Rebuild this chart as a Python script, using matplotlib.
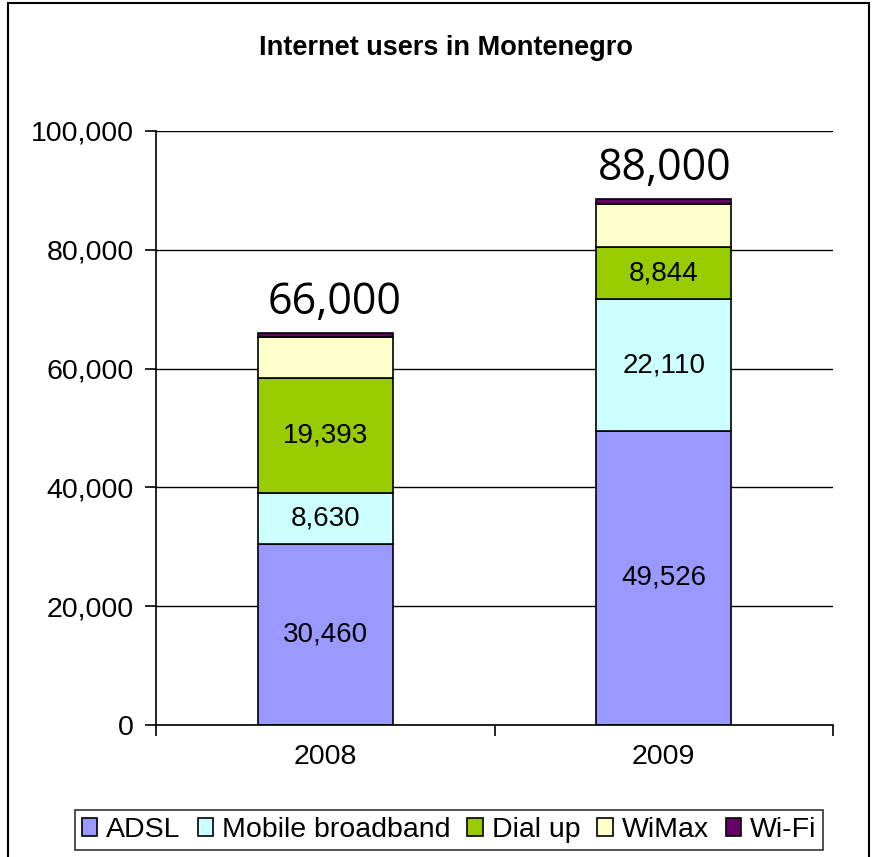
import numpy as np
import matplotlib.pyplot as plt
from matplotlib.patches import Rectangle
from matplotlib.ticker import FuncFormatter

plt.rcParams['font.family'] = ['Liberation Sans', 'DejaVu Sans']

years = ['2008', '2009']
series = ['ADSL', 'Mobile broadband', 'Dial up', 'WiMax', 'Wi-Fi']
adsl = [30460, 49526]
mobile = [8630, 22110]
dialup = [19393, 8844]
wimax = [6917, 7200]
wifi = [600, 900]
totals = ['66,000', '88,000']
colors = ['#9999FF', '#CCFFFF', '#99CC00', '#FFFFCC', '#660066']
show_label = [True, True, True, False, False]

fig = plt.figure(figsize=(8.75, 8.57), dpi=100)
ax = fig.add_axes([156 / 875, 1 - 725 / 857, (833 - 156) / 875, (725 - 131) / 857])

x = np.arange(len(years))
bottom = np.zeros(len(years))
for name, vals, col, lab in zip(series, [adsl, mobile, dialup, wimax, wifi], colors, show_label):
    vals = np.array(vals, dtype=float)
    ax.bar(x, vals, 0.4, bottom=bottom, color=col, edgecolor='black', linewidth=1.2,
           label=name, zorder=3)
    if lab:
        for xi, b, v in zip(x, bottom, vals):
            ax.text(xi, b + v / 2, f'{int(v):,}', ha='center', va='center',
                    fontsize=20, zorder=4)
    bottom += vals

# total labels sit a little off-centre in the original
for xi, top, t, dx in zip(x, bottom, totals, [6.5, 0.5]):
    ax.annotate(t, (xi, top), xytext=(dx, 5.5), textcoords='offset points',
                ha='center', va='bottom', fontsize=31, family=['Open Sans', 'DejaVu Sans'])

ax.set_xlim(-0.5, 1.5)
ax.set_ylim(0, 100000)
ax.set_yticks(np.arange(0, 100001, 20000))
ax.yaxis.set_major_formatter(FuncFormatter(lambda v, p: f'{int(v):,}'))
ax.grid(axis='y', color='black', linewidth=1.0, zorder=0)
ax.set_xticks(x)
ax.set_xticklabels(years)
ax.set_xticks([-0.5, 0.5, 1.5], minor=True)
ax.tick_params(axis='x', which='major', length=0, pad=14, labelsize=20.5)
ax.tick_params(axis='x', which='minor', length=8, width=1.2, direction='out')
ax.tick_params(axis='y', length=8, width=1.2, direction='out', pad=8, labelsize=20.5)
for s in ['top', 'right']:
    ax.spines[s].set_visible(False)
for s in ['left', 'bottom']:
    ax.spines[s].set_linewidth(1.2)
    ax.spines[s].set_zorder(5)

fig.text(446 / 875, 1 - 48 / 857, 'Internet users in Montenegro', ha='center', va='center',
         fontsize=19.5, fontweight='bold')

leg = fig.legend(loc='center', bbox_to_anchor=(449 / 875, 1 - 830 / 857), ncol=5,
                 fontsize=20.5, frameon=True, fancybox=False, edgecolor='black',
                 handlelength=0.55, handleheight=0.55, handletextpad=0.3,
                 columnspacing=0.6, borderpad=0.25, borderaxespad=0)
leg.get_frame().set_linewidth(1.2)

fig.patches.append(Rectangle((8 / 875, -0.01), (869 - 8) / 875, 1.0 - 3 / 857 + 0.01,
                             transform=fig.transFigure, fill=False, edgecolor='black',
                             linewidth=1.5))

fig.savefig('out.png', dpi=100)
